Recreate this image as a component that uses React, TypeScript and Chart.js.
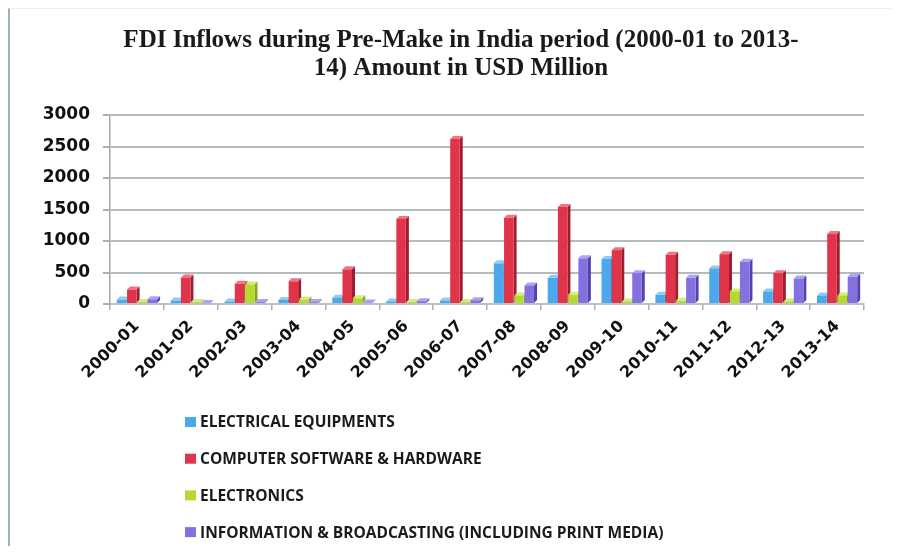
import React, { useEffect, useRef } from "react";
import { Chart, registerables } from "chart.js";

Chart.register(...registerables);

const categories = [
  "2000-01", "2001-02", "2002-03", "2003-04", "2004-05", "2005-06", "2006-07",
  "2007-08", "2008-09", "2009-10", "2010-11", "2011-12", "2012-13", "2013-14",
];

const seriesLabels = [
  "ELECTRICAL EQUIPMENTS",
  "COMPUTER SOFTWARE & HARDWARE",
  "ELECTRONICS",
  "INFORMATION & BROADCASTING (INCLUDING PRINT MEDIA)",
];

const electricalEquipments = [70, 55, 40, 65, 100, 40, 55, 645, 415, 715, 145, 565, 200, 135];
const computerSoftwareHardware = [230, 420, 320, 360, 550, 1350, 2620, 1370, 1540, 855, 780, 790, 490, 1110];
const electronics = [30, 30, 310, 70, 90, 30, 30, 135, 145, 40, 50, 200, 40, 135];
const infoBroadcasting = [75, 15, 30, 30, 25, 45, 60, 295, 725, 490, 415, 670, 405, 435];

const yTickValues = [0, 500, 1000, 1500, 2000, 2500, 3000];

const titleLines = [
  "FDI Inflows during Pre-Make in India period (2000-01 to 2013-",
  "14) Amount in USD Million",
];

const frontColors = ["#4CA8EC", "#E0344A", "#B5D92E", "#8570E0"];
const sideColors = ["#2B7DBE", "#A01D30", "#86A41C", "#5640AE"];
const topColors = ["#8ECBF5", "#EE7383", "#D4EC7A", "#AEA2F2"];

const bar3d = {
  id: "bar3d",
  beforeDatasetsDraw(chart: any) {
    const ctx = chart.ctx;
    const d = 3;
    chart.data.datasets.forEach((_ds: any, i: number) => {
      const meta = chart.getDatasetMeta(i);
      meta.data.forEach((bar: any) => {
        const { x, y, base, width } = bar.getProps(["x", "y", "base", "width"], true);
        const l = x - width / 2;
        const r = x + width / 2;
        ctx.save();
        ctx.fillStyle = sideColors[i];
        ctx.beginPath();
        ctx.moveTo(r, y);
        ctx.lineTo(r + d, y - d);
        ctx.lineTo(r + d, base - d);
        ctx.lineTo(r, base);
        ctx.closePath();
        ctx.fill();
        ctx.fillStyle = topColors[i];
        ctx.beginPath();
        ctx.moveTo(l, y);
        ctx.lineTo(l + d, y - d);
        ctx.lineTo(r + d, y - d);
        ctx.lineTo(r, y);
        ctx.closePath();
        ctx.fill();
        ctx.restore();
      });
    });
  },
};

const sideLegend = {
  id: "sideLegend",
  afterDraw(chart: any) {
    const ctx = chart.ctx;
    ctx.save();
    ctx.font = "bold 15.5px 'Open Sans'";
    ctx.textBaseline = "middle";
    ctx.textAlign = "left";
    chart.data.datasets.forEach((ds: any, i: number) => {
      const cy = 413 + i * 36.7;
      ctx.fillStyle = frontColors[i];
      ctx.fillRect(175, cy - 5, 11, 10);
      ctx.fillStyle = "#1a1a1a";
      ctx.fillText(ds.label, 190, cy + 1);
    });
    ctx.restore();
  },
};

export default function App() {
  const canvasRef = useRef<HTMLCanvasElement | null>(null);

  useEffect(() => {
    document.documentElement.style.overflow = "hidden";
    const canvas = canvasRef.current;
    if (!canvas) return;
    const seriesValues = [electricalEquipments, computerSoftwareHardware, electronics, infoBroadcasting];
    const chart = new Chart(canvas, {
      type: "bar",
      data: {
        labels: categories,
        datasets: seriesValues.map((values, i) => ({
          label: seriesLabels[i],
          data: values,
          backgroundColor: frontColors[i],
          borderWidth: 0,
          categoryPercentage: 0.76,
          barPercentage: 0.93,
        })),
      },
      plugins: [bar3d, sideLegend],
      options: {
        responsive: false,
        animation: false,
        layout: { padding: { left: 26, right: 13, top: 0, bottom: 164 } },
        plugins: {
          legend: { display: false },
          tooltip: { enabled: false },
          title: {
            display: true,
            text: titleLines,
            color: "#1a1a1a",
            font: { family: "'Liberation Serif'", size: 25, weight: "bold", lineHeight: 1.1 },
            padding: { top: 18, bottom: 33 },
          },
        },
        scales: {
          x: {
            offset: true,
            afterFit: (scale: any) => {
              scale.height = 78;
            },
            grid: {
              offset: true,
              drawOnChartArea: false,
              drawTicks: true,
              tickLength: 6,
              color: "#A8B0B0",
              lineWidth: 1.5,
            },
            border: { display: true, color: "#B8C2C2", width: 2 },
            ticks: {
              minRotation: 45,
              maxRotation: 45,
              autoSkip: false,
              padding: 7,
              color: "#111",
              font: { family: "'DejaVu Sans'", size: 16, weight: "bold" },
            },
          },
          y: {
            min: 0,
            max: 3000,
            afterFit: (scale: any) => {
              scale.width = 74;
            },
            afterBuildTicks: (scale: any) => {
              scale.ticks = yTickValues.map((v) => ({ value: v }));
            },
            grid: {
              color: "#B2BCBC",
              lineWidth: 2,
              drawTicks: true,
              tickLength: 7,
              tickColor: "#A8B0B0",
            },
            border: { display: true, color: "#A0AAAA", width: 1.5 },
            ticks: {
              padding: 13,
              color: "#111",
              callback: (v: any) => String(v),
              font: { family: "'DejaVu Sans'", size: 17, weight: "bold" },
            },
          },
          yRightSpacer: {
            type: "linear",
            position: "right",
            display: true,
            afterFit: (scale: any) => {
              scale.width = 22;
            },
            grid: { drawOnChartArea: false, drawTicks: false, display: false },
            border: { display: false },
            ticks: { display: false },
          },
        },
      },
    });
    return () => chart.destroy();
  }, []);

  return (
    <div
      style={{
        width: 889,
        height: 537,
        borderLeft: "2px solid #9DB3B3",
        borderTop: "1px solid #EAF0F0",
      }}
    >
      <canvas ref={canvasRef} width={889} height={537} style={{ display: "block" }} />
    </div>
  );
}
